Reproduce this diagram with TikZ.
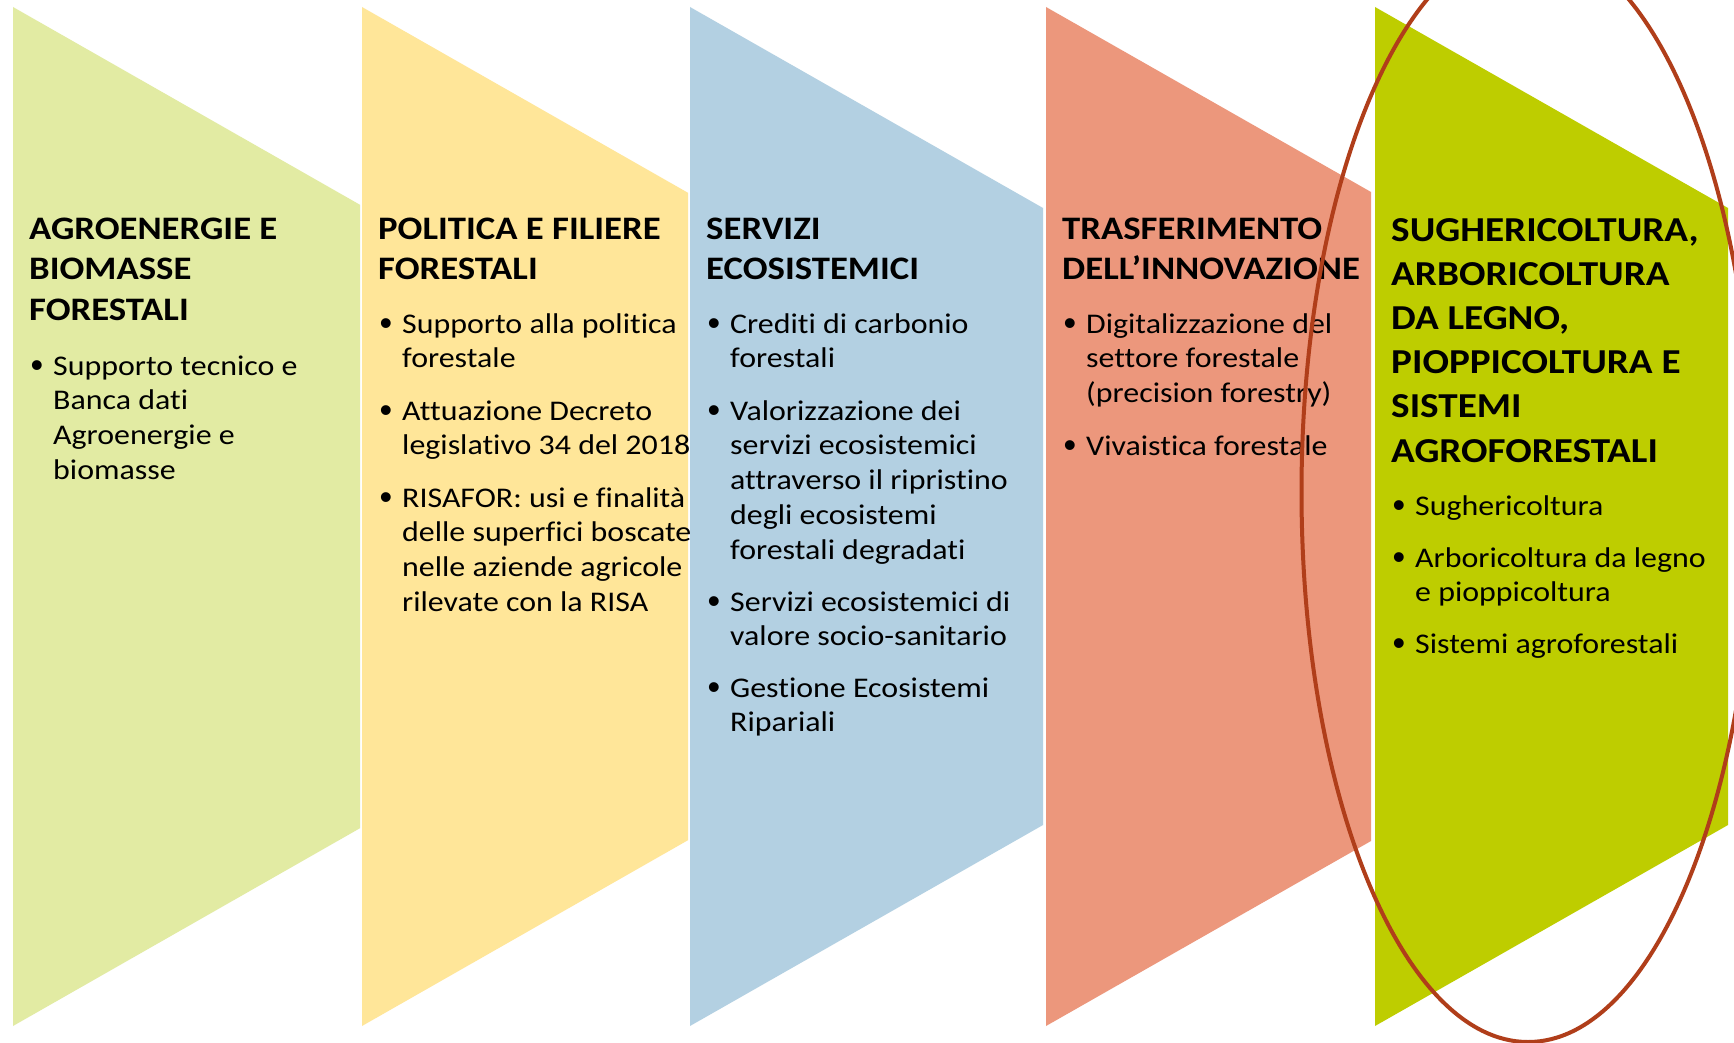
\documentclass[tikz,border=0pt]{standalone}
\usepackage{fontspec}
\setmainfont{Carlito}[Ligatures=NoCommon,FakeStretch=1.12]
\newfontfamily\bulfont{Liberation Sans}
\definecolor{cOne}{RGB}{226,235,163}
\definecolor{cTwo}{RGB}{255,230,153}
\definecolor{cThree}{RGB}{179,208,226}
\definecolor{cFour}{RGB}{236,151,124}
\definecolor{cFive}{RGB}{190,205,0}
\definecolor{ringcol}{RGB}{176,62,26}
\newcommand\bodyfnt{\fontsize{28.5}{34.8}\selectfont}
\newcommand\headfnt{\fontsize{32.8}{40.7}\selectfont\bfseries}
\newcommand\headfntbig{\fontsize{35}{44.2}\selectfont\bfseries}
\newcommand\blt{\leavevmode\llap{\raisebox{-2.5pt}{\bulfont\fontsize{36}{34.8}\selectfont •}\hspace{10pt}}}
\newcommand\pb[1]{\parbox[t]{420pt}{\raggedright #1}}
\begin{document}
\begin{tikzpicture}[x=1pt,y=-1pt,
  headtxt/.style={anchor=base west,inner sep=0pt,font=\headfnt,text=black},
  headbig/.style={anchor=base west,inner sep=0pt,font=\headfntbig,text=black},
  bodytxt/.style={anchor=base west,inner sep=0pt,font=\bodyfnt,text=black},
  ring/.style={draw=ringcol,line width=4pt}]
\clip (0,0) rectangle (1734,1043);
\fill[white] (0,0) rectangle (1734,1043);
% chevron panels
\fill[cOne]   (13,7)   -- (360,204.8)  -- (360,828.2)  -- (13,1026)   -- cycle;
\fill[cTwo]   (362,7)  -- (688,192.8)  -- (688,840.2)  -- (362,1026)  -- cycle;
\fill[cThree] (690,7)  -- (1043,208)   -- (1043,825)   -- (690,1026)  -- cycle;
\fill[cFour]  (1046,7) -- (1371,192)   -- (1371,841)   -- (1046,1026) -- cycle;
\fill[cFive]  (1375,7) -- (1728,208)   -- (1728,825)   -- (1375,1026) -- cycle;
% panel 1
\node[headtxt] (h1) at (29,239) {\pb{AGROENERGIE E\\BIOMASSE\\FORESTALI}};
\node[bodytxt] (b11) at (53,375) {\pb{\blt Supporto tecnico e\\Banca dati\\Agroenergie e\\biomasse}};
% panel 2
\node[headtxt] (h2) at (378,239) {\pb{POLITICA E FILIERE\\FORESTALI}};
\node[bodytxt] (b21) at (402,333) {\pb{\blt Supporto alla politica\\forestale}};
\node[bodytxt] (b22) at (402,420) {\pb{\blt Attuazione Decreto\\legislativo 34 del 2018}};
\node[bodytxt] (b23) at (402,507) {\pb{\blt RISAFOR: usi e finalità\\delle superfici boscate\\nelle aziende agricole\\rilevate con la RISA}};
% panel 3
\node[headtxt] (h3) at (706,239) {\pb{SERVIZI\\ECOSISTEMICI}};
\node[bodytxt] (b31) at (730,333) {\pb{\blt Crediti di carbonio\\forestali}};
\node[bodytxt] (b32) at (730,420) {\pb{\blt Valorizzazione dei\\servizi ecosistemici\\attraverso il ripristino\\degli ecosistemi\\forestali degradati}};
\node[bodytxt] (b33) at (730,611) {\pb{\blt Servizi ecosistemici di\\valore socio-sanitario}};
\node[bodytxt] (b34) at (730,697) {\pb{\blt Gestione Ecosistemi\\Ripariali}};
% panel 4
\node[headtxt] (h4) at (1062,239) {\pb{TRASFERIMENTO\\DELL’INNOVAZIONE}};
\node[bodytxt] (b41) at (1086,333) {\pb{\blt Digitalizzazione del\\settore forestale\\(precision forestry)}};
\node[bodytxt] (b42) at (1086,455) {\pb{\blt Vivaistica forestale}};
% panel 5
\node[headbig] (h5) at (1391,241) {\pb{SUGHERICOLTURA,\\ARBORICOLTURA\\DA LEGNO,\\PIOPPICOLTURA E\\SISTEMI\\AGROFORESTALI}};
\node[bodytxt] (b51) at (1415,515) {\pb{\blt Sughericoltura}};
\node[bodytxt] (b52) at (1415,567) {\pb{\blt Arboricoltura da legno\\e pioppicoltura}};
\node[bodytxt] (b53) at (1415,653) {\pb{\blt Sistemi agroforestali}};
% highlight ring
\draw[ring] (1528,492) ellipse [x radius=226.5, y radius=550];
\end{tikzpicture}
\end{document}
